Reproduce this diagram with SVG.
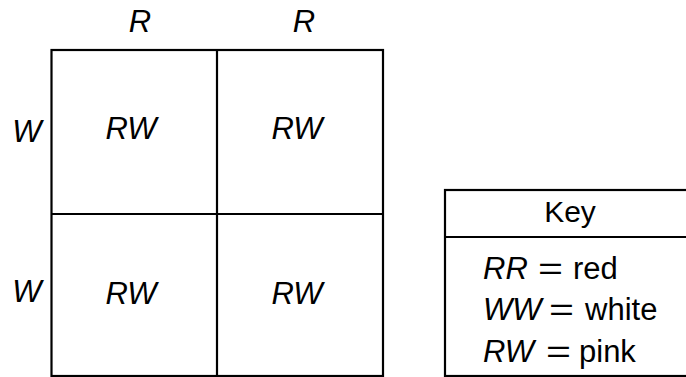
<svg xmlns="http://www.w3.org/2000/svg" width="686" height="377" viewBox="0 0 686 377">
  <style>
    .ln { fill: none; stroke: #000; stroke-width: 2.2; }
    .t { font-family: "Liberation Sans", Arial, sans-serif; font-size: 31px; fill: #000; }
    .k { font-size: 30px; }
    .i { font-style: italic; }
    .m { text-anchor: middle; }
  </style>
  <rect width="686" height="377" fill="#fff"/>
  <g id="grid">
    <rect class="ln" x="51.5" y="50" width="331.5" height="326"/>
    <line class="ln" x1="217" y1="50" x2="217" y2="376"/>
    <line class="ln" x1="51.5" y1="214" x2="383" y2="214"/>
  </g>
  <g id="col-labels">
    <text class="t i m" x="140" y="32">R</text>
    <text class="t i m" x="304" y="32">R</text>
  </g>
  <g id="row-labels">
    <text class="t i m" x="27" y="142">W</text>
    <text class="t i m" x="27" y="302">W</text>
  </g>
  <g id="cells">
    <text class="t i m" x="131" y="139">RW</text>
    <text class="t i m" x="297" y="139">RW</text>
    <text class="t i m" x="131" y="304">RW</text>
    <text class="t i m" x="297" y="304">RW</text>
  </g>
  <g id="key">
    <rect class="ln" x="445" y="190" width="260" height="186"/>
    <line class="ln" x1="445" y1="237" x2="705" y2="237"/>
    <text class="t k m" x="570" y="222">Key</text>
    <text class="t i" x="483" y="279">RR</text>
    <text class="t" x="538" y="279" textLength="25" lengthAdjust="spacingAndGlyphs">=</text>
    <text class="t" x="573" y="279">red</text>
    <text class="t i" x="483" y="320">WW</text>
    <text class="t" x="549" y="320" textLength="25" lengthAdjust="spacingAndGlyphs">=</text>
    <text class="t" x="585" y="320">white</text>
    <text class="t i" x="483" y="362">RW</text>
    <text class="t" x="546" y="362" textLength="25" lengthAdjust="spacingAndGlyphs">=</text>
    <text class="t" x="579" y="362">pink</text>
  </g>
</svg>
